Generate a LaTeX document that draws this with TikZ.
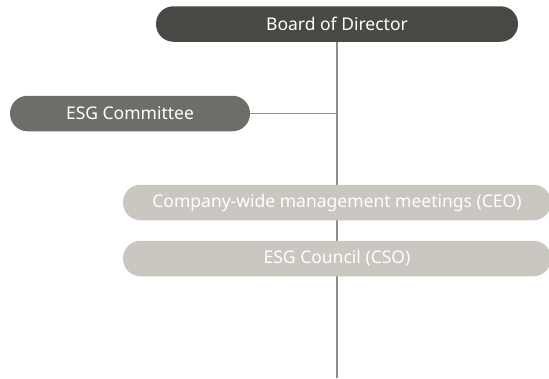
\documentclass[tikz,border=0pt]{standalone}
\usepackage{fontspec}
\setmainfont{Noto Sans}
\definecolor{boarddark}{HTML}{4A4844}
\definecolor{commgray}{HTML}{6F6D68}
\definecolor{lightbox}{HTML}{CAC7C1}
\definecolor{linegray}{HTML}{8E8E8E}
\begin{document}
\begin{tikzpicture}[x=1pt,y=-1pt,
  pill/.style={rounded corners=17.5pt, minimum height=35.5pt, inner sep=0pt, text=white, font=\fontsize{17.5}{17.5}\selectfont},
  conn/.style={draw=linegray, line width=1.3pt}]
\useasboundingbox (0,0) rectangle (549,378);
\coordinate (bottom) at (337,378);
\draw[conn] (337,42) -- (bottom);
\node[pill, fill=boarddark, minimum width=362pt] (board) at (337,24) {Board of Director};
\node[pill, fill=commgray, minimum width=240pt] (esgc) at (130,113.5) {ESG Committee};
\draw[conn] (esgc.east) -- (board.south |- esgc.east);
\draw[conn] (board.south) -- (board.south |- esgc.east);
\node[pill, fill=lightbox, minimum width=428pt] (mgmt) at (337,202.5) {Company-wide management meetings (CEO)};
\node[pill, fill=lightbox, minimum width=428pt] (council) at (337,258.5) {ESG Council (CSO)};
\end{tikzpicture}
\end{document}
